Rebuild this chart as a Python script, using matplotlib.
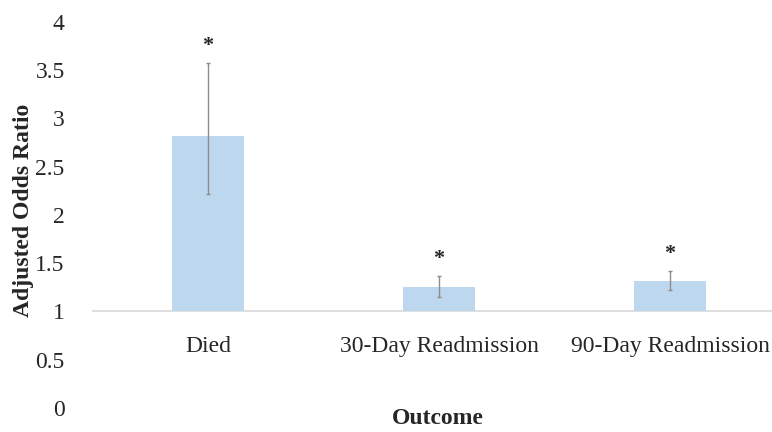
"""Adjusted odds ratios by outcome, bars drawn from a baseline of 1."""

import matplotlib

matplotlib.use("Agg")
import matplotlib.pyplot as plt

outcomes = ["Died", "30-Day Readmission", "90-Day Readmission"]
odds_ratio = [2.82, 1.25, 1.32]
ci_lower = [2.22, 1.15, 1.22]
ci_upper = [3.58, 1.37, 1.42]
significance = ["*", "*", "*"]

plt.rcParams["font.family"] = ["Liberation Serif", "DejaVu Serif"]

fig = plt.figure(figsize=(7.72, 4.32), dpi=100)
ax = fig.add_axes([0.1198, 0.0556, 0.8977, 0.8935])

x = list(range(len(outcomes)))
heights = [v - 1 for v in odds_ratio]
err = [[v - lo for v, lo in zip(odds_ratio, ci_lower)],
       [hi - v for v, hi in zip(odds_ratio, ci_upper)]]

ax.bar(x, heights, bottom=1, width=0.31, color="#BDD7EE", zorder=2)
ax.errorbar(x, odds_ratio, yerr=err, fmt="none", ecolor="#8C8C8C",
            elinewidth=1.0, capsize=1.5, capthick=1.0, zorder=3)
for xi, hi, mark in zip(x, ci_upper, significance):
    ax.annotate(mark, (xi, hi), xytext=(0, 12), textcoords="offset points",
                ha="center", va="center", fontsize=16, fontweight="bold",
                color="#262626")

ax.axhline(1, color="#D9D9D9", linewidth=1.2, zorder=1)
ax.set_xlim(-0.5, 2.5)
ax.set_ylim(0, 4)
ax.set_yticks([0, 0.5, 1, 1.5, 2, 2.5, 3, 3.5, 4])
ax.set_yticklabels(["0", "0.5", "1", "1.5", "2", "2.5", "3", "3.5", "4"])
ax.tick_params(axis="y", length=0, pad=20, labelsize=17, labelcolor="#262626")
ax.set_xticks([])
for spine in ax.spines.values():
    spine.set_visible(False)

# category labels sit just under the y=1 baseline, not at the bottom of the axis
for xi, name in zip(x, outcomes):
    ax.annotate(name, (xi, 1), xytext=(0, -25), textcoords="offset points",
                ha="center", va="center", fontsize=17, color="#262626")

fig.text(0.030, 0.512, "Adjusted Odds Ratio", rotation=90, ha="center", va="center",
         fontsize=17, fontweight="bold", color="#262626")
fig.text(0.567, 0.008, "Outcome", ha="center", va="bottom",
         fontsize=17, fontweight="bold", color="#262626")

fig.savefig("out.png", dpi=100)
